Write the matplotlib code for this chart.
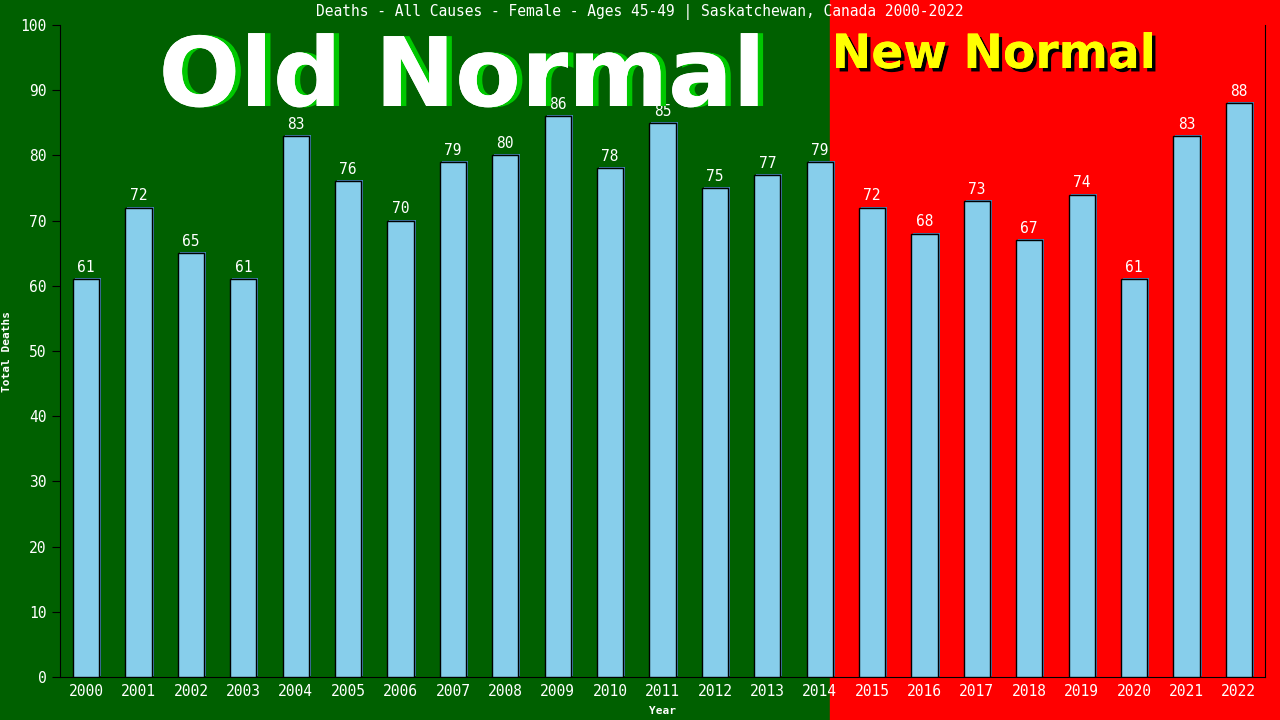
import matplotlib
matplotlib.use("Agg")
import matplotlib.pyplot as plt
import matplotlib.patheffects as pe
from matplotlib.patches import Rectangle
from matplotlib.transforms import offset_copy

years = [str(y) for y in range(2000, 2023)]
deaths = [61, 72, 65, 61, 83, 76, 70, 79, 80, 86, 78, 85,
          75, 77, 79, 72, 68, 73, 67, 74, 61, 83, 88]
title = "Deaths - All Causes - Female - Ages 45-49 | Saskatchewan, Canada 2000-2022"

mono = "DejaVu Sans Mono"
plt.rcParams['font.family'] = mono

fig = plt.figure(figsize=(12.8, 7.2), dpi=100)
fig.patch.set_facecolor("#006000")
# red "new normal" background on the right part of the figure
fig.patches.append(Rectangle((830 / 1280, 0), 1 - 830 / 1280, 1,
                             transform=fig.transFigure, color="#ff0000", zorder=-1))

ax = fig.add_axes([60 / 1280, 43 / 720, 1205 / 1280, 652 / 720])
ax.set_facecolor("none")

x = range(len(years))
shadow = offset_copy(ax.transData, fig=fig, x=2, y=1, units='dots')
ax.bar(x, deaths, width=0.5, color="#4682b4", transform=shadow, zorder=2)
bars = ax.bar(x, deaths, width=0.5, color="#87ceeb", edgecolor="black",
              linewidth=1, zorder=3)
ax.bar_label(bars, labels=[str(v) for v in deaths], padding=3,
             color="white", fontsize=10.5, zorder=4)

ax.set_xlim(-0.5, 22.5)
ax.set_ylim(0, 100)
ax.set_yticks(range(0, 101, 10))
ax.set_xticks(list(x))
ax.set_xticklabels(years)
ax.tick_params(axis='y', colors='black', labelcolor='white', labelsize=10.5,
               length=6, direction='out')
ax.tick_params(axis='x', length=0, labelcolor='white', labelsize=10.5, pad=5)
for side in ["left", "bottom", "right"]:
    ax.spines[side].set_color("black")
ax.spines["top"].set_visible(False)

ax.set_xlabel("Year", color="white", fontsize=8, fontweight="bold")
ax.set_ylabel("Total Deaths", color="white", fontsize=8, fontweight="bold")
ax.yaxis.set_label_coords(-0.04, 0.5)
ax.xaxis.set_label_coords(0.5, -0.045)

fig.text(0.5, 0.983, title, ha="center", va="center", color="white", fontsize=10.5)

fig.text(462 / 1280, 1 - 106 / 720, "Old Normal", ha="center", va="baseline",
         family="DejaVu Sans", fontweight="bold", fontsize=69, color="white",
         path_effects=[pe.withSimplePatchShadow(offset=(4, 0), shadow_rgbFace="#00c800", alpha=1),
                       pe.Normal()], zorder=10)
fig.text(994 / 1280, 1 - 68 / 720, "New Normal", ha="center", va="baseline",
         family="DejaVu Sans", fontweight="bold", fontsize=34, color="#ffff00",
         path_effects=[pe.withSimplePatchShadow(offset=(2.5, -2.5), shadow_rgbFace="black", alpha=1),
                       pe.Normal()], zorder=10)

fig.savefig("out.png", dpi=100, facecolor=fig.get_facecolor())
